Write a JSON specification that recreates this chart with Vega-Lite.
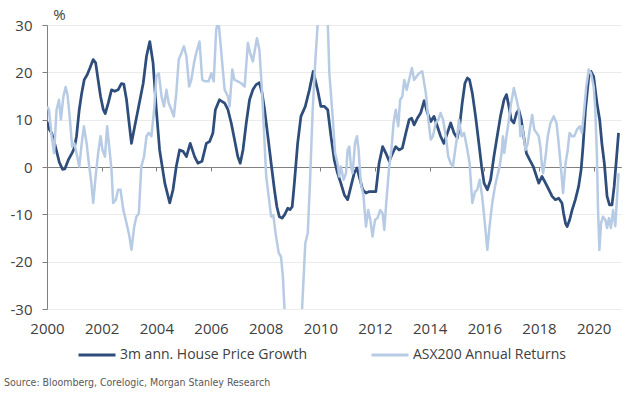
{
 "$schema": "https://vega.github.io/schema/vega-lite/v6.json",
 "width": 574,
 "height": 284,
 "autosize": {"type": "none"},
 "padding": {"left": 47, "top": 25, "right": 13, "bottom": 90},
 "background": "#ffffff",
 "config": {"view": {"stroke": null}, "font": "Open Sans"},
 "title": {"text": "Source: Bloomberg, Corelogic, Morgan Stanley Research", "orient": "bottom", "anchor": "start", "frame": "group", "font": "DejaVu Sans Condensed, Liberation Sans", "fontSize": 10.5, "fontWeight": "normal", "color": "#595959", "dx": -43, "offset": 16},
 "datasets": {
  "house": [
   {"t": 2000.00, "v": 9.6}, {"t": 2000.08, "v": 8.0}, {"t": 2000.17, "v": 7.2}, {"t": 2000.30, "v": 4.5}, {"t": 2000.45, "v": 1.0}, {"t": 2000.57, "v": -0.5}, {"t": 2000.65, "v": -0.4}, {"t": 2000.78, "v": 1.5}, {"t": 2000.92, "v": 3.0}, {"t": 2001.00, "v": 4.0}, {"t": 2001.08, "v": 6.5}, {"t": 2001.18, "v": 12.1}, {"t": 2001.27, "v": 15.6}, {"t": 2001.36, "v": 18.4}, {"t": 2001.47, "v": 19.5}, {"t": 2001.57, "v": 20.9}, {"t": 2001.69, "v": 22.7}, {"t": 2001.78, "v": 22.0}, {"t": 2001.87, "v": 18.4}, {"t": 2001.96, "v": 14.9}, {"t": 2002.06, "v": 12.1}, {"t": 2002.13, "v": 11.3}, {"t": 2002.24, "v": 13.5}, {"t": 2002.36, "v": 16.3}, {"t": 2002.48, "v": 16.0}, {"t": 2002.60, "v": 16.3}, {"t": 2002.72, "v": 17.6}, {"t": 2002.81, "v": 17.5}, {"t": 2002.91, "v": 14.2}, {"t": 2002.99, "v": 10.0}, {"t": 2003.09, "v": 5.0}, {"t": 2003.21, "v": 8.6}, {"t": 2003.33, "v": 12.1}, {"t": 2003.52, "v": 17.7}, {"t": 2003.64, "v": 23.4}, {"t": 2003.76, "v": 26.5}, {"t": 2003.88, "v": 22.0}, {"t": 2004.00, "v": 12.1}, {"t": 2004.12, "v": 3.6}, {"t": 2004.31, "v": -3.4}, {"t": 2004.49, "v": -7.6}, {"t": 2004.61, "v": -4.8}, {"t": 2004.73, "v": 0.1}, {"t": 2004.85, "v": 3.6}, {"t": 2004.98, "v": 3.3}, {"t": 2005.10, "v": 2.2}, {"t": 2005.24, "v": 5.0}, {"t": 2005.40, "v": 2.2}, {"t": 2005.52, "v": 0.8}, {"t": 2005.67, "v": 1.2}, {"t": 2005.83, "v": 5.0}, {"t": 2005.95, "v": 5.4}, {"t": 2006.07, "v": 7.2}, {"t": 2006.16, "v": 12.1}, {"t": 2006.31, "v": 14.2}, {"t": 2006.50, "v": 13.5}, {"t": 2006.62, "v": 12.1}, {"t": 2006.74, "v": 9.3}, {"t": 2006.86, "v": 5.8}, {"t": 2006.98, "v": 2.2}, {"t": 2007.07, "v": 0.8}, {"t": 2007.17, "v": 3.6}, {"t": 2007.29, "v": 9.3}, {"t": 2007.41, "v": 14.2}, {"t": 2007.53, "v": 16.3}, {"t": 2007.65, "v": 17.4}, {"t": 2007.77, "v": 17.8}, {"t": 2007.87, "v": 15.6}, {"t": 2007.96, "v": 12.1}, {"t": 2008.08, "v": 6.5}, {"t": 2008.20, "v": 0.8}, {"t": 2008.32, "v": -4.8}, {"t": 2008.41, "v": -8.4}, {"t": 2008.50, "v": -10.5}, {"t": 2008.60, "v": -10.8}, {"t": 2008.69, "v": -10.1}, {"t": 2008.81, "v": -8.7}, {"t": 2008.89, "v": -9.0}, {"t": 2008.97, "v": -8.4}, {"t": 2009.05, "v": -3.4}, {"t": 2009.17, "v": 5.0}, {"t": 2009.29, "v": 10.7}, {"t": 2009.45, "v": 12.8}, {"t": 2009.60, "v": 16.3}, {"t": 2009.74, "v": 20.2}, {"t": 2009.90, "v": 16.3}, {"t": 2010.02, "v": 12.8}, {"t": 2010.15, "v": 12.8}, {"t": 2010.27, "v": 12.1}, {"t": 2010.39, "v": 6.5}, {"t": 2010.51, "v": 1.5}, {"t": 2010.63, "v": -1.3}, {"t": 2010.75, "v": -3.4}, {"t": 2010.88, "v": -5.9}, {"t": 2011.00, "v": -6.9}, {"t": 2011.12, "v": -4.1}, {"t": 2011.24, "v": -1.3}, {"t": 2011.34, "v": -0.2}, {"t": 2011.42, "v": -2.0}, {"t": 2011.55, "v": -4.8}, {"t": 2011.67, "v": -5.5}, {"t": 2011.79, "v": -5.2}, {"t": 2011.91, "v": -5.2}, {"t": 2012.03, "v": -5.2}, {"t": 2012.15, "v": 0.8}, {"t": 2012.28, "v": 4.3}, {"t": 2012.40, "v": 2.9}, {"t": 2012.52, "v": 1.2}, {"t": 2012.64, "v": 2.9}, {"t": 2012.76, "v": 4.3}, {"t": 2012.88, "v": 3.6}, {"t": 2013.00, "v": 4.0}, {"t": 2013.13, "v": 7.2}, {"t": 2013.25, "v": 10.0}, {"t": 2013.34, "v": 10.3}, {"t": 2013.43, "v": 8.9}, {"t": 2013.55, "v": 10.3}, {"t": 2013.67, "v": 11.4}, {"t": 2013.80, "v": 14.0}, {"t": 2013.92, "v": 11.4}, {"t": 2014.04, "v": 9.6}, {"t": 2014.16, "v": 10.7}, {"t": 2014.28, "v": 8.6}, {"t": 2014.40, "v": 6.5}, {"t": 2014.52, "v": 5.0}, {"t": 2014.65, "v": 7.2}, {"t": 2014.77, "v": 9.3}, {"t": 2014.89, "v": 7.2}, {"t": 2015.01, "v": 6.1}, {"t": 2015.10, "v": 8.9}, {"t": 2015.19, "v": 13.5}, {"t": 2015.29, "v": 17.7}, {"t": 2015.38, "v": 18.8}, {"t": 2015.46, "v": 18.4}, {"t": 2015.56, "v": 15.6}, {"t": 2015.68, "v": 10.7}, {"t": 2015.80, "v": 5.0}, {"t": 2015.90, "v": 0.1}, {"t": 2015.99, "v": -3.4}, {"t": 2016.11, "v": -4.8}, {"t": 2016.23, "v": -2.7}, {"t": 2016.35, "v": 2.2}, {"t": 2016.47, "v": 6.5}, {"t": 2016.59, "v": 10.7}, {"t": 2016.72, "v": 14.2}, {"t": 2016.81, "v": 15.3}, {"t": 2016.90, "v": 12.8}, {"t": 2016.98, "v": 10.0}, {"t": 2017.08, "v": 9.3}, {"t": 2017.18, "v": 11.4}, {"t": 2017.26, "v": 12.1}, {"t": 2017.35, "v": 10.0}, {"t": 2017.44, "v": 6.5}, {"t": 2017.54, "v": 2.9}, {"t": 2017.66, "v": 1.5}, {"t": 2017.79, "v": 0.1}, {"t": 2017.91, "v": -2.0}, {"t": 2017.99, "v": -3.4}, {"t": 2018.11, "v": -2.0}, {"t": 2018.24, "v": -3.4}, {"t": 2018.36, "v": -4.8}, {"t": 2018.48, "v": -6.2}, {"t": 2018.60, "v": -6.9}, {"t": 2018.72, "v": -6.6}, {"t": 2018.84, "v": -7.6}, {"t": 2018.90, "v": -9.8}, {"t": 2018.97, "v": -11.9}, {"t": 2019.03, "v": -12.6}, {"t": 2019.12, "v": -11.2}, {"t": 2019.21, "v": -9.1}, {"t": 2019.33, "v": -6.9}, {"t": 2019.45, "v": -4.1}, {"t": 2019.54, "v": -0.6}, {"t": 2019.61, "v": 4.3}, {"t": 2019.70, "v": 12.1}, {"t": 2019.82, "v": 19.1}, {"t": 2019.90, "v": 20.2}, {"t": 2020.00, "v": 19.1}, {"t": 2020.12, "v": 13.5}, {"t": 2020.22, "v": 10.0}, {"t": 2020.30, "v": 5.0}, {"t": 2020.39, "v": 0.8}, {"t": 2020.49, "v": -6.2}, {"t": 2020.58, "v": -8.0}, {"t": 2020.67, "v": -8.0}, {"t": 2020.75, "v": -4.1}, {"t": 2020.85, "v": 2.9}, {"t": 2020.91, "v": 7.2}
  ],
  "asx": [
   {"t": 2000.00, "v": 12.8}, {"t": 2000.07, "v": 12.1}, {"t": 2000.17, "v": 6.5}, {"t": 2000.26, "v": 2.9}, {"t": 2000.35, "v": 12.1}, {"t": 2000.44, "v": 14.2}, {"t": 2000.51, "v": 10.0}, {"t": 2000.60, "v": 14.9}, {"t": 2000.68, "v": 16.9}, {"t": 2000.75, "v": 15.3}, {"t": 2000.84, "v": 10.0}, {"t": 2000.92, "v": 4.3}, {"t": 2001.00, "v": 5.0}, {"t": 2001.08, "v": 2.9}, {"t": 2001.18, "v": 0.1}, {"t": 2001.27, "v": 5.0}, {"t": 2001.35, "v": 8.6}, {"t": 2001.45, "v": 5.0}, {"t": 2001.53, "v": 0.8}, {"t": 2001.61, "v": -2.7}, {"t": 2001.69, "v": -7.6}, {"t": 2001.78, "v": -2.0}, {"t": 2001.87, "v": 2.9}, {"t": 2001.96, "v": 6.5}, {"t": 2002.03, "v": 3.6}, {"t": 2002.12, "v": 2.2}, {"t": 2002.20, "v": 8.6}, {"t": 2002.30, "v": 2.9}, {"t": 2002.36, "v": -0.6}, {"t": 2002.42, "v": -7.6}, {"t": 2002.52, "v": -6.9}, {"t": 2002.60, "v": -4.8}, {"t": 2002.69, "v": -4.8}, {"t": 2002.79, "v": -9.0}, {"t": 2002.91, "v": -11.9}, {"t": 2003.01, "v": -14.5}, {"t": 2003.09, "v": -17.5}, {"t": 2003.19, "v": -12.6}, {"t": 2003.27, "v": -10.5}, {"t": 2003.36, "v": -9.8}, {"t": 2003.45, "v": 0.1}, {"t": 2003.55, "v": 2.2}, {"t": 2003.64, "v": 6.5}, {"t": 2003.72, "v": 7.2}, {"t": 2003.82, "v": 6.5}, {"t": 2003.92, "v": 12.1}, {"t": 2004.00, "v": 19.1}, {"t": 2004.09, "v": 19.8}, {"t": 2004.19, "v": 14.9}, {"t": 2004.28, "v": 12.8}, {"t": 2004.37, "v": 16.3}, {"t": 2004.45, "v": 13.5}, {"t": 2004.55, "v": 12.1}, {"t": 2004.64, "v": 10.7}, {"t": 2004.73, "v": 15.6}, {"t": 2004.82, "v": 22.7}, {"t": 2004.92, "v": 24.1}, {"t": 2005.01, "v": 25.5}, {"t": 2005.10, "v": 23.4}, {"t": 2005.20, "v": 17.0}, {"t": 2005.28, "v": 18.4}, {"t": 2005.38, "v": 22.0}, {"t": 2005.46, "v": 24.1}, {"t": 2005.58, "v": 26.5}, {"t": 2005.68, "v": 18.4}, {"t": 2005.79, "v": 18.1}, {"t": 2005.91, "v": 18.1}, {"t": 2006.01, "v": 19.8}, {"t": 2006.10, "v": 18.1}, {"t": 2006.19, "v": 29.0}, {"t": 2006.27, "v": 31.0}, {"t": 2006.35, "v": 26.0}, {"t": 2006.41, "v": 22.0}, {"t": 2006.50, "v": 16.3}, {"t": 2006.62, "v": 14.9}, {"t": 2006.68, "v": 12.8}, {"t": 2006.78, "v": 20.6}, {"t": 2006.86, "v": 18.4}, {"t": 2006.98, "v": 18.1}, {"t": 2007.10, "v": 17.7}, {"t": 2007.23, "v": 17.0}, {"t": 2007.35, "v": 26.2}, {"t": 2007.43, "v": 24.1}, {"t": 2007.53, "v": 22.3}, {"t": 2007.68, "v": 27.2}, {"t": 2007.77, "v": 24.8}, {"t": 2007.87, "v": 15.6}, {"t": 2007.96, "v": 5.0}, {"t": 2008.02, "v": -2.0}, {"t": 2008.11, "v": -6.2}, {"t": 2008.20, "v": -10.5}, {"t": 2008.28, "v": -10.2}, {"t": 2008.38, "v": -14.7}, {"t": 2008.48, "v": -18.2}, {"t": 2008.56, "v": -18.9}, {"t": 2008.63, "v": -23.1}, {"t": 2008.69, "v": -30.2}, {"t": 2008.80, "v": -38.0}, {"t": 2009.00, "v": -42.0}, {"t": 2009.15, "v": -38.0}, {"t": 2009.28, "v": -33.0}, {"t": 2009.33, "v": -30.2}, {"t": 2009.45, "v": -16.1}, {"t": 2009.54, "v": -14.0}, {"t": 2009.62, "v": -3.4}, {"t": 2009.72, "v": 12.1}, {"t": 2009.82, "v": 22.7}, {"t": 2009.90, "v": 30.0}, {"t": 2009.97, "v": 33.0}, {"t": 2010.07, "v": 31.0}, {"t": 2010.17, "v": 34.0}, {"t": 2010.27, "v": 31.0}, {"t": 2010.33, "v": 19.8}, {"t": 2010.45, "v": 10.7}, {"t": 2010.54, "v": 2.9}, {"t": 2010.63, "v": 0.8}, {"t": 2010.69, "v": -2.0}, {"t": 2010.75, "v": 0.1}, {"t": 2010.85, "v": -2.7}, {"t": 2010.94, "v": -1.3}, {"t": 2011.00, "v": 3.6}, {"t": 2011.06, "v": 4.3}, {"t": 2011.12, "v": 0.1}, {"t": 2011.18, "v": -1.3}, {"t": 2011.27, "v": 5.0}, {"t": 2011.34, "v": 6.5}, {"t": 2011.40, "v": 3.6}, {"t": 2011.48, "v": -3.4}, {"t": 2011.58, "v": -6.2}, {"t": 2011.67, "v": -12.6}, {"t": 2011.75, "v": -9.1}, {"t": 2011.83, "v": -11.2}, {"t": 2011.91, "v": -14.7}, {"t": 2012.00, "v": -11.2}, {"t": 2012.09, "v": -10.8}, {"t": 2012.19, "v": -9.1}, {"t": 2012.28, "v": -9.8}, {"t": 2012.34, "v": -13.3}, {"t": 2012.43, "v": -6.2}, {"t": 2012.52, "v": 0.1}, {"t": 2012.60, "v": 3.6}, {"t": 2012.68, "v": 9.3}, {"t": 2012.76, "v": 12.1}, {"t": 2012.85, "v": 8.6}, {"t": 2012.92, "v": 14.2}, {"t": 2013.00, "v": 14.9}, {"t": 2013.07, "v": 18.4}, {"t": 2013.16, "v": 16.3}, {"t": 2013.25, "v": 18.5}, {"t": 2013.35, "v": 20.9}, {"t": 2013.43, "v": 18.4}, {"t": 2013.52, "v": 19.1}, {"t": 2013.61, "v": 19.8}, {"t": 2013.73, "v": 20.2}, {"t": 2013.86, "v": 15.6}, {"t": 2013.95, "v": 10.0}, {"t": 2014.04, "v": 5.8}, {"t": 2014.12, "v": 6.5}, {"t": 2014.22, "v": 9.3}, {"t": 2014.32, "v": 10.0}, {"t": 2014.40, "v": 11.4}, {"t": 2014.49, "v": 10.0}, {"t": 2014.59, "v": 6.5}, {"t": 2014.68, "v": 2.2}, {"t": 2014.77, "v": 0.8}, {"t": 2014.85, "v": 0.1}, {"t": 2014.95, "v": 4.3}, {"t": 2015.01, "v": 6.5}, {"t": 2015.07, "v": 10.0}, {"t": 2015.17, "v": 6.5}, {"t": 2015.26, "v": 7.2}, {"t": 2015.38, "v": 3.6}, {"t": 2015.46, "v": 0.8}, {"t": 2015.56, "v": -7.6}, {"t": 2015.66, "v": -5.2}, {"t": 2015.74, "v": -4.8}, {"t": 2015.83, "v": -2.7}, {"t": 2015.92, "v": -6.2}, {"t": 2016.02, "v": -11.9}, {"t": 2016.11, "v": -17.5}, {"t": 2016.19, "v": -12.6}, {"t": 2016.29, "v": -7.6}, {"t": 2016.39, "v": -4.1}, {"t": 2016.47, "v": -2.0}, {"t": 2016.56, "v": 0.1}, {"t": 2016.63, "v": 2.9}, {"t": 2016.68, "v": 6.5}, {"t": 2016.73, "v": 3.0}, {"t": 2016.81, "v": 6.5}, {"t": 2016.90, "v": 10.0}, {"t": 2016.98, "v": 13.5}, {"t": 2017.08, "v": 16.7}, {"t": 2017.18, "v": 14.2}, {"t": 2017.26, "v": 12.1}, {"t": 2017.32, "v": 6.5}, {"t": 2017.38, "v": 8.6}, {"t": 2017.44, "v": 6.5}, {"t": 2017.51, "v": 3.6}, {"t": 2017.59, "v": 5.0}, {"t": 2017.66, "v": 7.9}, {"t": 2017.75, "v": 11.0}, {"t": 2017.83, "v": 7.9}, {"t": 2017.91, "v": 7.2}, {"t": 2017.99, "v": 6.5}, {"t": 2018.05, "v": 4.3}, {"t": 2018.11, "v": 0.1}, {"t": 2018.15, "v": -1.3}, {"t": 2018.24, "v": 2.2}, {"t": 2018.32, "v": 6.5}, {"t": 2018.42, "v": 9.3}, {"t": 2018.54, "v": 10.7}, {"t": 2018.64, "v": 9.3}, {"t": 2018.72, "v": 5.0}, {"t": 2018.81, "v": -0.6}, {"t": 2018.88, "v": -5.5}, {"t": 2018.97, "v": 0.8}, {"t": 2019.05, "v": 3.6}, {"t": 2019.12, "v": 7.2}, {"t": 2019.21, "v": 6.5}, {"t": 2019.29, "v": 6.5}, {"t": 2019.39, "v": 7.9}, {"t": 2019.49, "v": 8.6}, {"t": 2019.57, "v": 7.2}, {"t": 2019.63, "v": 10.7}, {"t": 2019.73, "v": 17.0}, {"t": 2019.82, "v": 20.6}, {"t": 2019.90, "v": 19.8}, {"t": 2020.00, "v": 17.0}, {"t": 2020.06, "v": 12.1}, {"t": 2020.12, "v": 2.2}, {"t": 2020.16, "v": -9.1}, {"t": 2020.21, "v": -17.5}, {"t": 2020.27, "v": -11.9}, {"t": 2020.34, "v": -10.5}, {"t": 2020.43, "v": -11.2}, {"t": 2020.49, "v": -12.9}, {"t": 2020.56, "v": -10.8}, {"t": 2020.63, "v": -12.9}, {"t": 2020.71, "v": -9.1}, {"t": 2020.79, "v": -12.5}, {"t": 2020.85, "v": -6.9}, {"t": 2020.91, "v": -1.3}
  ]
 },
 "layer": [
  {
   "data": {"name": "house"},
   "mark": {"type": "line", "clip": true, "strokeWidth": 2.75, "strokeJoin": "round"},
   "encoding": {
    "x": {"field": "t", "type": "quantitative", "scale": {"domain": [2000, 2021], "nice": false, "zero": false},
     "axis": {"orient": "bottom", "values": [2000, 2002, 2004, 2006, 2008, 2010, 2012, 2014, 2016, 2018, 2020], "labelExpr": "'' + datum.value", "labelFlush": false, "labelOverlap": false, "domain": false, "ticks": false, "grid": false, "labelFontSize": 15, "labelColor": "#404040", "labelPadding": 12, "title": null}},
    "y": {"field": "v", "type": "quantitative", "title": "%", "scale": {"domain": [-30, 30], "nice": false},
     "axis": {"values": [-30, -20, -10, 0, 10, 20, 30], "labelExpr": "'' + datum.value", "labelFlush": false, "labelFontSize": 15, "labelColor": "#404040", "labelPadding": 10, "tickSize": 5, "tickColor": "#808080", "domainColor": "#808080", "gridColor": {"condition": {"test": "datum.value === 0", "value": "#808080"}, "value": "#ebebeb"}, "titleAngle": 0, "titleX": 12, "titleY": -11, "titleAlign": "center", "titleBaseline": "middle", "titleFontSize": 15, "titleFontWeight": "normal", "titleColor": "#404040"}},
    "color": {"datum": "3m ann. House Price Growth", "type": "nominal",
     "scale": {"domain": ["3m ann. House Price Growth", "ASX200 Annual Returns"], "range": ["#2E4D7B", "#B7CBE5"]},
     "legend": {"orient": "none", "legendX": 30, "legendY": 310, "direction": "horizontal", "title": null, "symbolType": "stroke", "symbolSize": 1369, "symbolStrokeWidth": 3, "labelFontSize": 14, "labelColor": "#404040", "labelLimit": 400, "columnPadding": 58, "labelOffset": 3}}
   }
  },
  {
   "data": {"name": "asx"},
   "mark": {"type": "line", "clip": true, "strokeWidth": 2.5, "strokeJoin": "round"},
   "encoding": {
    "x": {"field": "t", "type": "quantitative",
     "axis": {"orient": "top", "offset": -142, "values": [2000, 2002, 2004, 2006, 2008, 2010, 2012, 2014, 2016, 2018, 2020], "labels": false, "grid": false, "domainColor": "#808080", "tickColor": "#808080", "tickSize": -4, "title": null}},
    "y": {"field": "v", "type": "quantitative", "title": "%"},
    "color": {"datum": "ASX200 Annual Returns", "type": "nominal"}
   }
  }
 ],
 "resolve": {"axis": {"x": "independent"}}
}
